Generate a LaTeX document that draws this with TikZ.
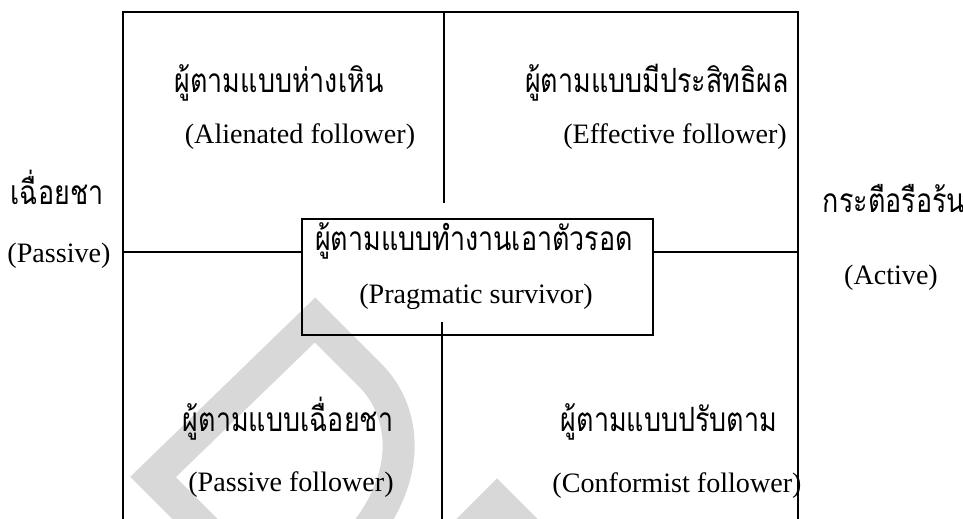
\documentclass[tikz,border=0pt]{standalone}
\usepackage{fontspec}
\usepackage{graphicx}
\setmainfont{Liberation Serif}
\newfontfamily\thaifont[Script=Thai]{Loma}
\usepackage{tikz}
\usetikzlibrary{calc}
\definecolor{wmgray}{RGB}{216,216,216}
\newcommand{\thaibox}[1]{\scalebox{0.9}[1.12]{#1}}
\tikzstyle{every node}=[inner sep=0pt]
\tikzstyle{thlabel}=[anchor=base, font=\thaifont\fontsize{17}{20}\selectfont]
\tikzstyle{enlabel}=[anchor=base, font=\fontsize{16}{19}\selectfont]
\tikzstyle{watermark}=[draw=wmgray, line width=0.64cm, line join=miter, miter limit=10]

\begin{document}
\begin{tikzpicture}[x=0.02cm, y=-0.02cm]

                \useasboundingbox (0,0) rectangle (963,519);
                \clip (0,0) rectangle (963,519);

                \draw [watermark] (233,557) -- (153,477) -- (315,320) -- (370,375)
                        .. controls (410,415) and (415,490) .. (340,560);
                \draw [watermark] (437,561) -- (497,501) -- (557,561);

                \coordinate (TL) at (123,12);
                \coordinate (TR) at (798,12);
                \coordinate (BL) at (123,540);
                \coordinate (BR) at (798,540);
                \coordinate (TM) at (444,12);
                \coordinate (UM) at (444,203);
                \coordinate (LM) at (442,322);
                \coordinate (BM) at (442,540);
                \coordinate (ML) at (123,252);
                \coordinate (MR) at (798,252);

                \node (prag) [draw, line width=1.3pt, minimum width=7.02cm, minimum height=2.32cm] at (477.5,277) {};

                \draw [line width=0.8pt] (BL) -- (TL) -- (TR) -- (BR);
                \draw [line width=0.8pt] (TM) -- (UM);
                \draw [line width=0.8pt] (LM) -- (BM);
                \draw [line width=0.8pt] (ML) -- (ML -| prag.west);
                \draw [line width=0.8pt] (prag.east |- MR) -- (MR);

                \node (alienTh) [thlabel] at (279,93) {\thaibox{ผู้ตามแบบห่างเหิน}};
                \node (alienEn) [enlabel] at (300,144) {(Alienated follower)};
                \node (effectTh) [thlabel] at (657,93) {\thaibox{ผู้ตามแบบมีประสิทธิผล}};
                \node (effectEn) [enlabel] at (675,144) {(Effective follower)};
                \node (passTh) [thlabel] at (57,205) {\thaibox{เฉื่อยชา}};
                \node (passEn) [enlabel] at (59,263) {(Passive)};
                \node (pragTh) [thlabel] at (474,251) {\thaibox{ผู้ตามแบบทำงานเอาตัวรอด}};
                \node (pragEn) [enlabel] at (476,304) {(Pragmatic survivor)};
                \node (actTh) [thlabel] at (894,213) {\thaibox{กระตือรือร้น}};
                \node (actEn) [enlabel] at (891,285) {(Active)};
                \node (passfTh) [thlabel] at (288,432) {\thaibox{ผู้ตามแบบเฉื่อยชา}};
                \node (passfEn) [enlabel] at (291,492) {(Passive follower)};
                \node (confTh) [thlabel] at (669,432) {\thaibox{ผู้ตามแบบปรับตาม}};
                \node (confEn) [enlabel] at (677,493) {(Conformist follower)};

            \end{tikzpicture}
\end{document}
